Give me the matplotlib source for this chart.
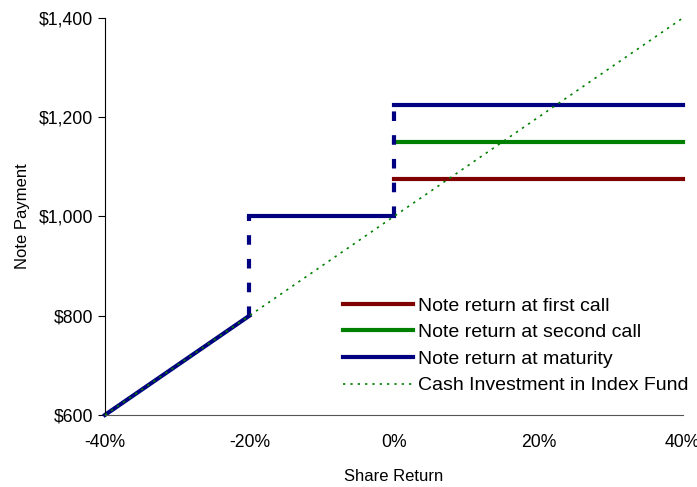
import matplotlib.pyplot as plt
from matplotlib.ticker import FuncFormatter

plt.rcParams['font.family'] = ['Liberation Sans', 'DejaVu Sans']

# share return (fraction) and note payment ($)
first_call_x = [0.0, 0.4]
first_call_y = [1075, 1075]
second_call_x = [0.0, 0.4]
second_call_y = [1150, 1150]
# maturity payoff drawn as segments: (x pair, y pair, style)
maturity_segments = [
    ([-0.4, -0.2], [600, 800], '-'),
    ([-0.2, -0.2], [800, 1000], '--'),
    ([-0.2, 0.0], [1000, 1000], '-'),
    ([0.0, 0.0], [1000, 1225], '--'),
    ([0.0, 0.4], [1225, 1225], '-'),
]
index_x = [-0.4, 0.4]
index_y = [600, 1400]

labels = ['Note return at first call', 'Note return at second call',
          'Note return at maturity', 'Cash Investment in Index Fund']
x_ticks = [-0.4, -0.2, 0.0, 0.2, 0.4]
y_ticks = [600, 800, 1000, 1200, 1400]

red = '#800000'
green = '#008000'
navy = '#000080'

fig = plt.figure(figsize=(6.97, 4.87), dpi=100)
ax = fig.add_axes([0.1506, 0.148, 0.829, 0.815])

l1, = ax.plot(first_call_x, first_call_y, color=red, lw=3, clip_on=False, label=labels[0])
l2, = ax.plot(second_call_x, second_call_y, color=green, lw=3, clip_on=False, label=labels[1])
handles = [l1, l2]
for i, (sx, sy, st) in enumerate(maturity_segments):
    ln, = ax.plot(sx, sy, color=navy, lw=3, ls=st, clip_on=False,
                  dashes=(2.3, 3.4) if st == '--' else (None, None))
    if i == 0:
        ln.set_label(labels[2])
        handles.append(ln)
l4, = ax.plot(index_x, index_y, color=green, lw=1.2, ls=(0, (1.4, 3)), clip_on=False,
              zorder=5, label=labels[3])
handles.append(l4)

ax.set_xlim(-0.4, 0.4)
ax.set_ylim(600, 1400)
ax.set_xticks(x_ticks)
ax.set_yticks(y_ticks)
ax.xaxis.set_major_formatter(FuncFormatter(lambda v, p: f'{v*100:.0f}%'))
ax.yaxis.set_major_formatter(FuncFormatter(lambda v, p: f'${v:,.0f}'))
ax.tick_params(axis='x', length=0, pad=14, labelsize=12.7)
ax.tick_params(axis='y', length=5, direction='out', labelsize=12.7)
ax.spines['top'].set_visible(False)
ax.spines['right'].set_visible(False)
ax.spines['bottom'].set_color('#555555')

ax.set_xlabel('Share Return', fontsize=12, labelpad=13)
ax.set_ylabel('Note Payment', fontsize=12, labelpad=6)

ax.legend(handles=handles, loc='upper left', bbox_to_anchor=(0.412, 0.297),
          frameon=False, fontsize=14, handlelength=3.6, handletextpad=0.27,
          labelspacing=0.46, borderaxespad=0, borderpad=0)

fig.savefig('out.png', dpi=100)
